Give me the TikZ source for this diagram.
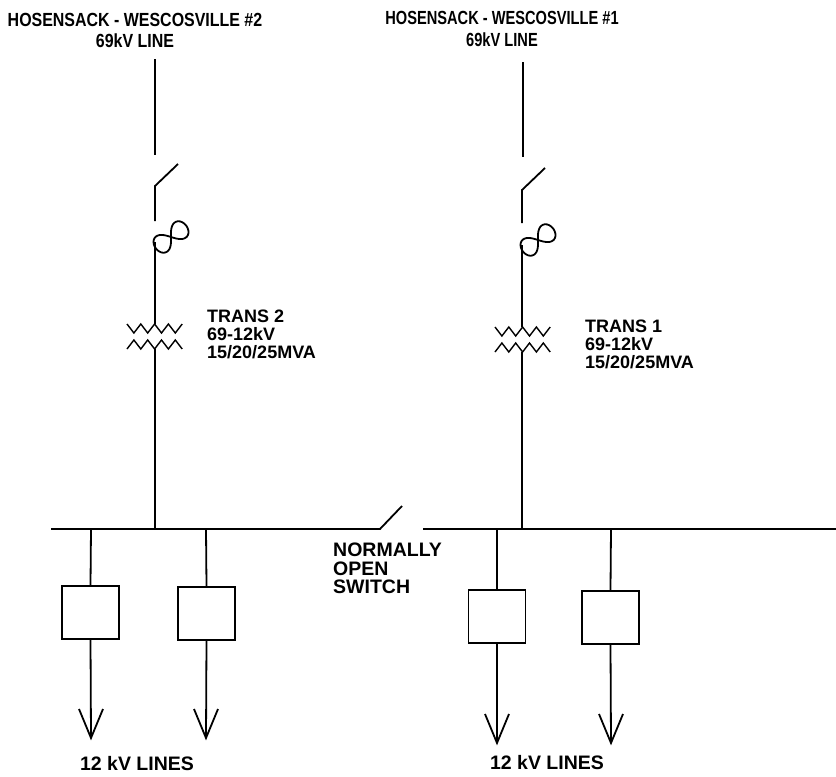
\documentclass[tikz,border=0pt]{standalone}
\usepackage{fontspec}
\setmainfont{Liberation Sans}
\newfontfamily\dfont[FakeStretch=0.84]{Liberation Sans}
\newfontfamily\dfontn[FakeStretch=0.77]{Liberation Sans}
\begin{document}
\begin{tikzpicture}[x=1pt,y=-1pt,
  wire/.style={line width=1.8pt},
  coil/.style={line width=1.4pt, line join=miter},
  lbl/.style={font=\bfseries\fontsize{19.5}{18.5}\selectfont, inner sep=0pt, align=left},
  tlbl/.style={font=\bfseries\fontsize{18}{18}\selectfont, inner sep=0pt, align=left},
  ttl/.style={font=\dfont\bfseries\fontsize{19}{21}\selectfont, inner sep=0pt, align=center},
  brk/.style={draw, line width=1.8pt, minimum width=57pt, minimum height=53pt, inner sep=0pt}]
\useasboundingbox (0,0) rectangle (836,777);
% ---------- titles
\node[ttl, anchor=north] (title2) at (135,13) {HOSENSACK - WESCOSVILLE \#2\\69kV LINE};
\node[ttl, anchor=north, font=\dfontn\bfseries\fontsize{19}{22}\selectfont] (title1) at (502,11) {HOSENSACK - WESCOSVILLE \#1\\69kV LINE};
% ---------- left column (x=155)
\coordinate (l2top) at (155,59);
\coordinate (l2end) at (155,155);
\coordinate (s2a) at (155,186);
\coordinate (s2b) at (178,164);
\coordinate (s2c) at (155,221);
\draw[wire] (l2top) -- (l2end);
\draw[wire] (s2b) -- (s2a) -- (s2c);
% fuse (figure-eight)
\draw[wire, smooth, samples=60, domain=0:360, variable=\t]
  plot ({171 + (19*cos(\t)/(1+sin(\t)^2))*0.8 + (19*sin(\t)*cos(\t)/(1+sin(\t)^2))*0.6*1.4},
        {237 - (19*cos(\t)/(1+sin(\t)^2))*0.6 + (19*sin(\t)*cos(\t)/(1+sin(\t)^2))*0.8*1.4});
\coordinate (f2) at (155,242);
\coordinate (x2top) at (155,324);
\draw[wire] (f2) -- (x2top);
% transformer 2
\draw[coil] (127,324) -- ++(6.9,9) -- ++(6.9,-9) -- ++(6.9,9) -- ++(6.9,-9)
  -- ++(6.9,9) -- ++(6.9,-9) -- ++(6.9,9) -- ++(6.9,-9);
\draw[coil] (127,349) -- ++(6.9,-9) -- ++(6.9,9) -- ++(6.9,-9) -- ++(6.9,9)
  -- ++(6.9,-9) -- ++(6.9,9) -- ++(6.9,-9) -- ++(6.9,9);
\coordinate (x2bot) at (155,349);
\node[tlbl, anchor=north west] (tr2) at (207,310) {TRANS 2\\69-12kV\\15/20/25MVA};
% ---------- right column (x=522)
\coordinate (l1top) at (523,62);
\coordinate (l1end) at (523,157);
\coordinate (s1a) at (522,190);
\coordinate (s1b) at (545,168);
\coordinate (s1c) at (522,223);
\draw[wire] (l1top) -- (l1end);
\draw[wire] (s1b) -- (s1a) -- (s1c);
\draw[wire, smooth, samples=60, domain=0:360, variable=\t]
  plot ({538 + (19*cos(\t)/(1+sin(\t)^2))*0.8 + (19*sin(\t)*cos(\t)/(1+sin(\t)^2))*0.6*1.4},
        {240 - (19*cos(\t)/(1+sin(\t)^2))*0.6 + (19*sin(\t)*cos(\t)/(1+sin(\t)^2))*0.8*1.4});
\coordinate (f1) at (522,245);
\coordinate (x1top) at (522,327);
\draw[wire] (f1) -- (x1top);
\draw[coil] (495,327) -- ++(6.9,9) -- ++(6.9,-9) -- ++(6.9,9) -- ++(6.9,-9)
  -- ++(6.9,9) -- ++(6.9,-9) -- ++(6.9,9) -- ++(6.9,-9);
\draw[coil] (495,352) -- ++(6.9,-9) -- ++(6.9,9) -- ++(6.9,-9) -- ++(6.9,9)
  -- ++(6.9,-9) -- ++(6.9,9) -- ++(6.9,-9) -- ++(6.9,9);
\coordinate (x1bot) at (522,352);
\node[tlbl, anchor=north west] (tr1) at (585,320) {TRANS 1\\69-12kV\\15/20/25MVA};
% ---------- bus
\coordinate (busL) at (51,529);
\coordinate (nos) at (380,529);
\coordinate (nob) at (402,506);
\coordinate (busR0) at (423,529);
\coordinate (busR) at (836,529);
\coordinate (b2) at (155,529);
\coordinate (b1) at (522,529);
\draw[wire] (busL) -- (nos) -- (nob);
\draw[wire] (busR0) -- (busR);
\draw[wire] (x2bot) -- (b2);
\draw[wire] (x1bot) -- (b1);
\node[lbl, anchor=north west] (nolbl) at (333,543) {NORMALLY\\OPEN\\SWITCH};
% ---------- feeders
\node[brk] (bk1) at (90.5,612.5) {};
\node[brk] (bk2) at (206.5,613.5) {};
\node[brk] (bk3) at (497,616.5) {};
\node[brk] (bk4) at (610.5,617.5) {};
\coordinate (fa1) at (91,529);  \coordinate (ta1) at (91,738);
\coordinate (fa2) at (206,529); \coordinate (ta2) at (206,738);
\coordinate (fa3) at (497,529); \coordinate (ta3) at (497,743);
\coordinate (fa4) at (611,529); \coordinate (ta4) at (611,743);
\foreach \i in {1,2,3,4}{
  \draw[wire] (fa\i) -- (bk\i.north);
  \draw[wire] (bk\i.south) -- (ta\i);
  \draw[wire] (ta\i) ++(-12,-29) -- (ta\i) -- ++(12,-29);
}
\node[lbl, anchor=center] (out2) at (137,764) {12 kV LINES};
\node[lbl, anchor=center] (out1) at (547,763) {12 kV LINES};
\end{tikzpicture}
\end{document}
